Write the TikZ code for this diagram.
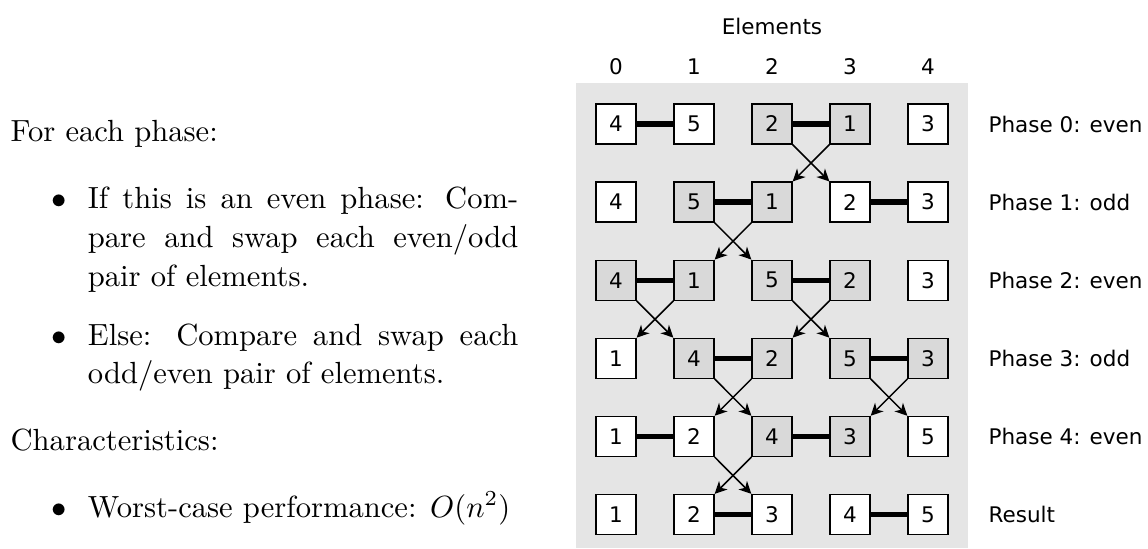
\documentclass[tikz,border=0pt]{standalone}
\usepackage{fontspec}
\newfontfamily\dvfont{DejaVu Sans}
\usetikzlibrary{arrows.meta}
\begin{document}
\begin{tikzpicture}[x=0.3268pt,y=-0.3268pt,
  txt/.style={anchor=base west,inner sep=0pt,font=\fontsize{10}{12.75}\selectfont},
  bul/.style={anchor=base,inner sep=0pt,font=\fontsize{10}{12.75}\selectfont},
  lbl/.style={inner sep=0pt,font=\dvfont\fontsize{7.03}{8.5}\selectfont},
  cell/.style={draw=black,line width=0.42pt,minimum size=13.07pt,inner sep=0pt,font=\dvfont\fontsize{7.03}{8.5}\selectfont,fill=white},
  hot/.style={cell,fill=black!15},
  link/.style={line width=1.75pt},
  mv/.style={line width=0.5pt,-{Stealth[length=4pt,width=3.9pt,inset=1.2pt]}}
]
\useasboundingbox (0,0) rectangle (1148,548);
\fill[black!10] (575.7,83.3) rectangle (968,548);

% left text
\node[txt] (t0) at (10,141) {For each phase:};
\node[bul] (u1) at (59,208) {$\bullet$};
\node[txt] (i1a) at (87.3,208) {\makebox[140.65pt][s]{If this is an even phase: Com-}};
\node[txt] (i1b) at (87.3,247) {\makebox[140.65pt][s]{pare and swap each even/odd}};
\node[txt] (i1c) at (87.3,286) {pair of elements.};
\node[bul] (u2) at (59,345) {$\bullet$};
\node[txt] (i2a) at (87.3,345) {\makebox[140.65pt][s]{Else: Compare and swap each}};
\node[txt] (i2b) at (87.3,383.5) {odd/even pair of elements.};
\node[txt] (t1) at (10,450) {Characteristics:};
\node[bul] (u3) at (59,517) {$\bullet$};
\node[txt] (i3a) at (87.3,517) {Worst-case performance: $O(n^2)$};

% headers
\node[lbl] (hdr) at (772,26.5) {Elements};
\node[lbl] (c0) at (616,67) {0};
\node[lbl] (c1) at (694,67) {1};
\node[lbl] (c2) at (772,67) {2};
\node[lbl] (c3) at (850,67) {3};
\node[lbl] (c4) at (928,67) {4};

% row 0
\node[cell] (b00) at (616,124) {4};
\node[cell] (b01) at (694,124) {5};
\node[hot]  (b02) at (772,124) {2};
\node[hot]  (b03) at (850,124) {1};
\node[cell] (b04) at (928,124) {3};
% row 1
\node[cell] (b10) at (616,202.1) {4};
\node[hot]  (b11) at (694,202.1) {5};
\node[hot]  (b12) at (772,202.1) {1};
\node[cell] (b13) at (850,202.1) {2};
\node[cell] (b14) at (928,202.1) {3};
% row 2
\node[hot]  (b20) at (616,280.2) {4};
\node[hot]  (b21) at (694,280.2) {1};
\node[hot]  (b22) at (772,280.2) {5};
\node[hot]  (b23) at (850,280.2) {2};
\node[cell] (b24) at (928,280.2) {3};
% row 3
\node[cell] (b30) at (616,358.3) {1};
\node[hot]  (b31) at (694,358.3) {4};
\node[hot]  (b32) at (772,358.3) {2};
\node[hot]  (b33) at (850,358.3) {5};
\node[hot]  (b34) at (928,358.3) {3};
% row 4
\node[cell] (b40) at (616,436.4) {1};
\node[cell] (b41) at (694,436.4) {2};
\node[hot]  (b42) at (772,436.4) {4};
\node[hot]  (b43) at (850,436.4) {3};
\node[cell] (b44) at (928,436.4) {5};
% row 5
\node[cell] (b50) at (616,514.5) {1};
\node[cell] (b51) at (694,514.5) {2};
\node[cell] (b52) at (772,514.5) {3};
\node[cell] (b53) at (850,514.5) {4};
\node[cell] (b54) at (928,514.5) {5};

% phase labels
\node[lbl,anchor=west] (p0) at (988,124) {Phase 0: even};
\node[lbl,anchor=west] (p1) at (988,202.1) {Phase 1: odd};
\node[lbl,anchor=west] (p2) at (988,280.2) {Phase 2: even};
\node[lbl,anchor=west] (p3) at (988,358.3) {Phase 3: odd};
\node[lbl,anchor=west] (p4) at (988,436.4) {Phase 4: even};
\node[lbl,anchor=west] (p5) at (988,514.5) {Result};

% compare links
\draw[link] (b00) -- (b01);
\draw[link] (b02) -- (b03);
\draw[link] (b11) -- (b12);
\draw[link] (b13) -- (b14);
\draw[link] (b20) -- (b21);
\draw[link] (b22) -- (b23);
\draw[link] (b31) -- (b32);
\draw[link] (b33) -- (b34);
\draw[link] (b40) -- (b41);
\draw[link] (b42) -- (b43);
\draw[link] (b51) -- (b52);
\draw[link] (b53) -- (b54);

% swap arrows
\draw[mv] (b02.south east) -- (b13.north west);
\draw[mv] (b03.south west) -- (b12.north east);
\draw[mv] (b11.south east) -- (b22.north west);
\draw[mv] (b12.south west) -- (b21.north east);
\draw[mv] (b20.south east) -- (b31.north west);
\draw[mv] (b21.south west) -- (b30.north east);
\draw[mv] (b22.south east) -- (b33.north west);
\draw[mv] (b23.south west) -- (b32.north east);
\draw[mv] (b31.south east) -- (b42.north west);
\draw[mv] (b32.south west) -- (b41.north east);
\draw[mv] (b33.south east) -- (b44.north west);
\draw[mv] (b34.south west) -- (b43.north east);
\draw[mv] (b41.south east) -- (b52.north west);
\draw[mv] (b42.south west) -- (b51.north east);
\end{tikzpicture}
\end{document}
